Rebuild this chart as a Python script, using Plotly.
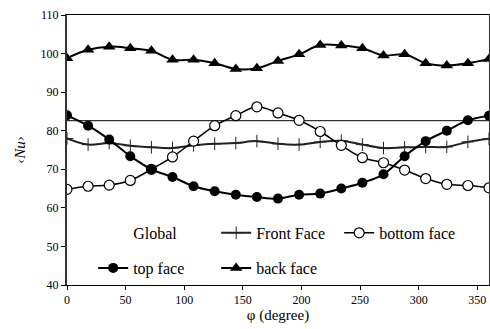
import plotly.graph_objects as go

phi = [0, 18, 36, 54, 72, 90, 108, 126, 144, 162, 180, 198, 216, 234, 252, 270, 288, 306, 324, 342, 360]

global_nu = [82.6] * len(phi)
front_face = [78.0, 76.4, 76.8, 76.1, 75.7, 75.5, 76.2, 76.6, 76.8, 77.3, 76.6,
              76.4, 77.1, 77.4, 76.4, 75.5, 75.7, 75.8, 75.8, 77.1, 77.9]
bottom_face = [64.8, 65.6, 65.9, 67.1, 70.0, 73.2, 77.3, 81.3, 83.9, 86.2, 84.6,
               82.7, 79.8, 76.2, 73.0, 71.7, 69.8, 67.6, 66.1, 65.8, 65.2]
top_face = [84.0, 81.3, 77.7, 73.4, 70.0, 68.0, 65.6, 64.3, 63.4, 62.8, 62.4,
            63.4, 63.7, 65.0, 66.5, 68.7, 73.4, 77.3, 80.0, 82.7, 83.9]
back_face = [98.8, 101.0, 101.8, 101.4, 100.7, 98.4, 98.4, 97.5, 96.0, 96.2, 98.1,
             99.8, 102.2, 102.1, 101.4, 99.5, 99.8, 97.5, 96.9, 97.5, 98.6]

x_ticks = [0, 50, 100, 150, 200, 250, 300, 350]
y_ticks = [40, 50, 60, 70, 80, 90, 100, 110]

FONT = "Liberation Serif"
fig = go.Figure()

# Global line (no legend symbol in the reference)
fig.add_trace(go.Scatter(x=phi, y=global_nu, mode="lines", line=dict(color="black", width=1),
                         showlegend=False, hoverinfo="skip"))
fig.add_trace(go.Scatter(x=[None], y=[None], mode="lines", name="Global",
                         line=dict(color="rgba(0,0,0,0)", width=1), legend="legend"))
fig.add_trace(go.Scatter(x=phi, y=front_face, mode="lines+markers", name="Front Face",
                         line=dict(color="#222", width=2, shape="spline"),
                         marker=dict(symbol="cross-thin", size=9, line=dict(color="#222", width=1)),
                         legend="legend"))
fig.add_trace(go.Scatter(x=phi, y=bottom_face, mode="lines+markers", name="bottom face",
                         line=dict(color="black", width=1.5, shape="spline"),
                         marker=dict(symbol="circle", size=10, color="white", line=dict(color="black", width=1.2)),
                         legend="legend"))
fig.add_trace(go.Scatter(x=phi, y=top_face, mode="lines+markers", name="top face",
                         line=dict(color="black", width=2, shape="spline"),
                         marker=dict(symbol="circle", size=10, color="black"),
                         legend="legend2"))
fig.add_trace(go.Scatter(x=phi, y=back_face, mode="lines+markers", name="back face",
                         line=dict(color="black", width=2, shape="spline"),
                         marker=dict(symbol="triangle-up", size=11, color="black"),
                         legend="legend2"))

leg_common = dict(orientation="h", xanchor="left", yanchor="middle", entrywidth=78,
                  font=dict(family=FONT, size=16, color="black"), bgcolor="rgba(0,0,0,0)",
                  itemwidth=30, traceorder="normal")

fig.update_layout(
    width=490, height=329,
    margin=dict(l=67, r=1, t=15, b=44, autoexpand=False),
    plot_bgcolor="white", paper_bgcolor="white",
    font=dict(family=FONT, size=12, color="black"),
    legend=dict(x=0.062, y=0.193, **leg_common),
    legend2=dict(x=0.062, y=0.063, **leg_common),
    xaxis=dict(range=[0, 360], tickvals=x_ticks, ticks="outside", ticklen=4, tickcolor="black",
               showline=True, linecolor="black", linewidth=1, mirror=True, showgrid=False, zeroline=False,
               tickfont=dict(family=FONT, size=12), automargin=False,
               title=dict(text="φ (degree)", font=dict(family=FONT, size=15), standoff=1)),
    yaxis=dict(range=[40, 110], tickvals=y_ticks, ticks="outside", ticklen=4, tickcolor="black",
               showline=True, linecolor="#333", linewidth=2, mirror=True, showgrid=False, zeroline=False,
               tickfont=dict(family=FONT, size=12), automargin=False,
               title=dict(text="<i>‹Nu›</i>", font=dict(family=FONT, size=15), standoff=11)),
)

fig.write_html("out.html", config={"displayModeBar": False},
               post_script="document.body.style.margin='0';")
